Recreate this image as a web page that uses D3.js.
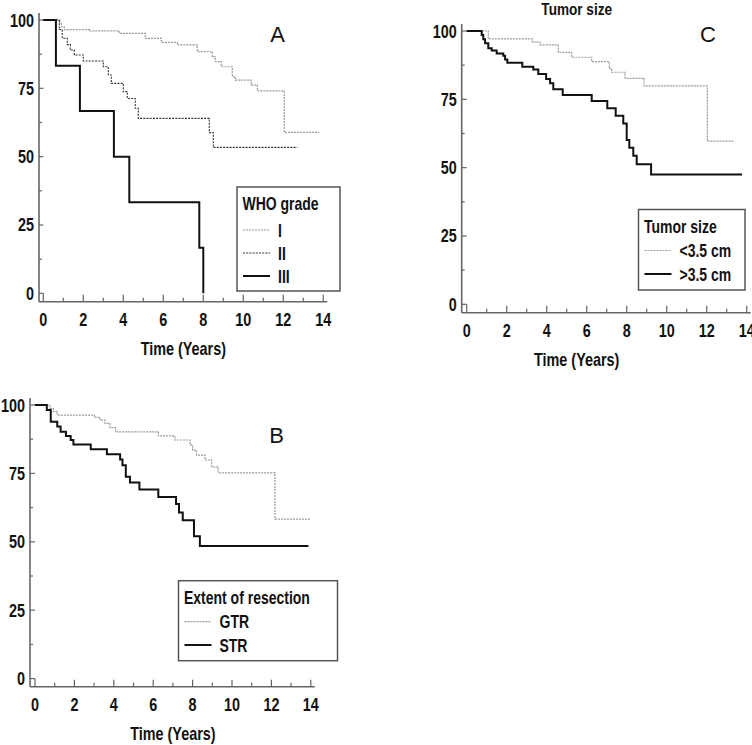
<!DOCTYPE html>
<html><head><meta charset="utf-8">
<script src="https://cdn.jsdelivr.net/npm/d3@7"></script>
<style>
body{margin:0;background:#fff;}
svg text{font-family:"Liberation Sans","Arial",sans-serif;font-weight:bold;fill:#111;}
</style></head><body>
<svg id="chart" width="752" height="745"></svg>
<script>
// ---- data ----
const xTicks = [0,2,4,6,8,10,12,14];
const yTicks = [0,25,50,75,100];

// Panel A: WHO grade
const gradeI_t = [0,0.83,0.9,1.05,2.3,3.8,5.1,5.9,6.7,7.7,8.45,8.6,8.9,9.45,9.6,10.4,10.7,12.05,13.8];
const gradeI_s = [100,99,97.5,96.5,96,95.1,93.3,91.8,90.9,88.4,86.5,84.8,82.9,79.3,78,76.2,74.1,58.9,58.9];
const gradeII_t = [0,0.8,0.95,1.2,1.35,1.55,2.0,3.0,3.25,3.4,4.0,4.2,4.6,4.75,8.3,8.5,12.7];
const gradeII_s = [100,96.5,93.3,91,89,87.2,85,82.9,79.9,76.8,73.8,71.3,67.7,64,58.8,53.4,53.4];
const gradeIII_t = [0,0.63,1.83,3.53,4.3,7.8,8.0];
const gradeIII_s = [100,83.3,66.7,50,33.3,16.7,0];

// Panel B: Extent of resection
const gtr_t = [0,0.76,0.93,1.13,3.01,3.3,3.55,3.8,4.09,6.26,7.1,7.87,8.0,8.2,8.63,8.97,9.3,12.18,13.96];
const gtr_s = [100,98.8,97.6,96.3,95.5,94.5,93.3,91.7,90.2,88.7,87.2,85.4,83.5,81.7,79.9,77.4,75.2,58.3,58.3];
const str_t = [0,0.6,0.8,1.13,1.3,1.57,1.81,1.95,2.83,3.65,4.32,4.44,4.61,4.82,5.3,6.26,7.16,7.31,7.5,8.07,8.37,13.88];
const str_s = [100,98.2,93.9,92.1,90.2,88.7,87.2,85.6,83.8,82,80.1,78,73.8,71.7,69.1,66.4,63.8,60.7,57.9,52,48.5,48.5];

// Panel C: Tumor size
const small_t = [0,1.08,3.28,3.67,4.58,5.25,6.25,7.13,7.25,7.92,8.87,12.03,13.33];
const small_s = [100,97.1,95.9,94.9,92.2,90.4,88.8,86.3,84.9,82.7,79.9,59.7,59.7];
const large_t = [0,0.75,0.83,0.92,1.08,1.25,1.5,1.83,1.92,2.03,2.78,3.33,3.58,3.97,4.17,4.33,4.8,6.25,7.03,7.45,7.83,8.0,8.13,8.33,8.5,9.22,13.77];
const large_s = [100,98.5,97,95.5,93.7,92.9,91.8,90.9,89.6,88.4,86.9,85.9,84.3,82.4,80.9,78.7,76.6,74.4,71.7,69,66.2,60.1,57.3,54.4,51.2,47.5,47.5];

// ---- styles ----
const STY = {
  lightDot:{stroke:"#9a9a9a",width:1.2,dash:"2,1"},
  darkDot:{stroke:"#333",width:1.1,dash:"2,1.2"},
  solid:{stroke:"#111",width:2,dash:null}
};
const NARROW = 0.8;

const svg = d3.select("#chart");

// condensed bold text helper
function ntext(sel, x, y, size, str, anchor){
  return sel.append("text")
    .attr("transform",`translate(${x},${y}) scale(${NARROW},1)`)
    .attr("text-anchor",anchor||"start")
    .attr("font-size",size).text(str);
}

function panel(cfg){
  const g = svg.append("g");
  const x = d3.scaleLinear().domain([0,14]).range([cfg.x0, cfg.x0 + 14*cfg.pxYear]);
  const y = d3.scaleLinear().domain([0,100]).range([cfg.y0, cfg.y100]);
  const axisCol = "#666";
  g.append("line").attr("x1",cfg.yAxisX).attr("x2",cfg.yAxisX)
    .attr("y1",cfg.y100-7).attr("y2",cfg.xAxisY).attr("stroke",axisCol).attr("stroke-width",1.6);
  g.append("line").attr("x1",cfg.yAxisX).attr("x2",x(14)+4)
    .attr("y1",cfg.xAxisY).attr("y2",cfg.xAxisY).attr("stroke",axisCol).attr("stroke-width",1.6);
  const yMinor = d3.range(0,101,12.5);
  g.selectAll(".ymt").data(yMinor).enter().append("line")
    .attr("x1",cfg.yAxisX).attr("x2",d=> d%25===0 ? x(0) : cfg.yAxisX+3)
    .attr("y1",d=>y(d)).attr("y2",d=>y(d)).attr("stroke",axisCol).attr("stroke-width",1.2);
  const xMinor = d3.range(0,15,1);
  g.selectAll(".xmt").data(xMinor).enter().append("line")
    .attr("x1",d=>x(d)).attr("x2",d=>x(d))
    .attr("y1",cfg.xAxisY).attr("y2",d=> d===0 ? y(0) : (d%2===0 ? cfg.xAxisY-7 : cfg.xAxisY-4))
    .attr("stroke",axisCol).attr("stroke-width",1.2);
  yTicks.forEach(d=> ntext(g, cfg.yAxisX-5, y(d)+6.5, 18, d, "end"));
  xTicks.forEach(d=> ntext(g, x(d), cfg.xAxisY+24, 18, d, "middle"));
  ntext(g, (x(0)+x(14))/2 + cfg.titleDx, cfg.xAxisY+53.5, 18, "Time (Years)", "middle");
  g.append("text").attr("x",cfg.letterX).attr("y",cfg.letterY).attr("text-anchor","middle")
    .style("font-family","'Liberation Sans',Arial,sans-serif").style("font-weight","normal")
    .attr("font-size",22).text(cfg.letter);
  const line = d3.line().x(d=>x(d[0])).y(d=>y(d[1])).curve(d3.curveStepAfter);
  cfg.series.forEach(s=>{
    const pts = s.t.map((t,i)=>[t,s.s[i]]);
    const st = STY[s.style];
    g.append("path").attr("d",line(pts)).attr("fill","none")
      .attr("stroke",st.stroke).attr("stroke-width",st.width)
      .attr("stroke-dasharray",st.dash);
  });
  const L = cfg.legend;
  g.append("rect").attr("x",L.x).attr("y",L.y).attr("width",L.w).attr("height",L.h)
    .attr("fill","#fff").attr("stroke","#555").attr("stroke-width",1.5);
  ntext(g, L.x+5.5, L.y+23, 17.5, L.title);
  cfg.series.forEach((s,i)=>{
    const st = STY[s.style];
    const ly = L.y + L.firstLine + i*L.step;
    g.append("line").attr("x1",L.x+6).attr("x2",L.x+33).attr("y1",ly).attr("y2",ly)
      .attr("stroke",st.stroke).attr("stroke-width",st.width).attr("stroke-dasharray",st.dash);
    ntext(g, L.x+41, ly+6.5, 17.5, s.label);
  });
}

panel({x0:43.3,pxYear:20,y0:293.3,y100:20,yAxisX:39,xAxisY:301.7,titleDx:0,
  letter:"A",letterX:277.5,letterY:42,
  legend:{x:237,y:187,w:103,h:104,title:"WHO grade",firstLine:43,step:23},
  series:[{t:gradeI_t,s:gradeI_s,style:"lightDot",label:"I"},
          {t:gradeII_t,s:gradeII_s,style:"darkDot",label:"II"},
          {t:gradeIII_t,s:gradeIII_s,style:"solid",label:"III"}]});

panel({x0:466.7,pxYear:20,y0:304.3,y100:31,yAxisX:461.7,xAxisY:312.7,titleDx:-30,
  letter:"C",letterX:708,letterY:42,
  legend:{x:638.5,y:209.5,w:106.5,h:80.5,title:"Tumor size",firstLine:41,step:23.5},
  series:[{t:small_t,s:small_s,style:"lightDot",label:"<3.5 cm"},
          {t:large_t,s:large_s,style:"solid",label:">3.5 cm"}]});

panel({x0:35,pxYear:19.7,y0:678.6,y100:405,yAxisX:30,xAxisY:686.7,titleDx:0,
  letter:"B",letterX:276.5,letterY:443,
  legend:{x:178.5,y:580.7,w:159,h:80,title:"Extent of resection",firstLine:41,step:23.3},
  series:[{t:gtr_t,s:gtr_s,style:"lightDot",label:"GTR"},
          {t:str_t,s:str_s,style:"solid",label:"STR"}]});

ntext(svg, 576.7, 15, 17, "Tumor size", "middle");
</script>
</body></html>
